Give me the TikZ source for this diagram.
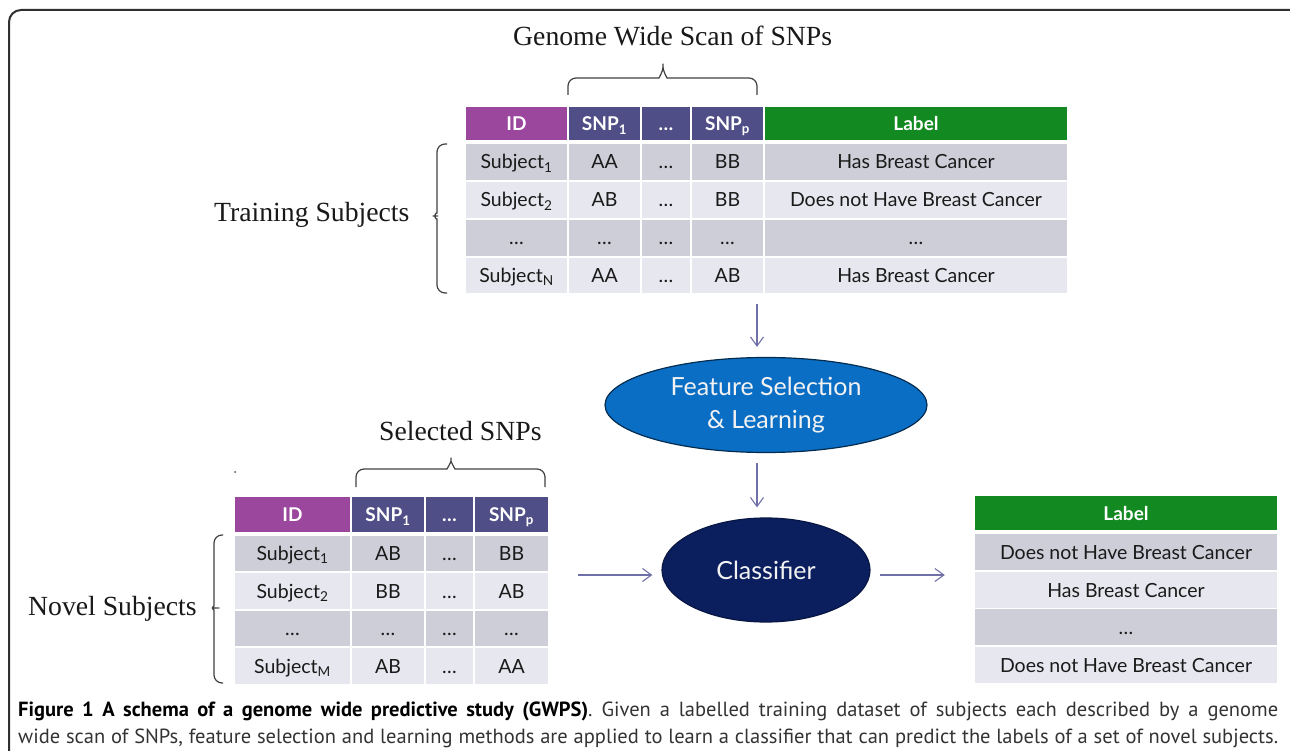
\documentclass[tikz,border=0pt]{standalone}
\usepackage{fontspec}
\setmainfont{Liberation Serif}
\newfontfamily\cellfont{Lato}
\newfontfamily\capfont{PT Sans}
\usetikzlibrary{positioning, arrows.meta}
\definecolor{idpurple}{HTML}{9B479E}
\definecolor{snpblue}{HTML}{4F4E87}
\definecolor{labelgreen}{HTML}{138A21}
\definecolor{rowdark}{HTML}{CDCED8}
\definecolor{rowlight}{HTML}{E7E7EF}
\definecolor{featblue}{HTML}{0A6EC5}
\definecolor{clsnavy}{HTML}{0B1F5F}
\definecolor{flowgray}{HTML}{7070A8}
\definecolor{framegray}{HTML}{303030}
\definecolor{celltext}{HTML}{1A1A1A}
\tikzset{
  cell/.style={rectangle, inner sep=0pt, text height=14pt, text depth=0pt,
    font=\cellfont\fontsize{19.5}{19.5}\selectfont, text=celltext},
  headcell/.style={cell, font=\cellfont\bfseries\fontsize{19}{19}\selectfont, text=white},
  bigtext/.style={inner sep=0pt, anchor=base west, font=\fontsize{27.7}{30}\selectfont, text=black!90},
  bracepath/.style={draw=black!75, line width=1.2pt, rounded corners=8pt},
  flow/.style={draw=flowgray, line width=1.1pt, -{Straight Barb[length=9pt, width=13pt]}},
  blob/.style={ellipse, inner sep=0pt, line width=1.2pt, align=center, text=white!95!black,
    font=\cellfont\fontsize{25}{33}\selectfont}
}
\usetikzlibrary{shapes.geometric}
\begin{document}
\begin{tikzpicture}[x=1pt, y=-1pt]
\useasboundingbox (0,0) rectangle (1290,751);
\draw[framegray, line width=2pt, rounded corners=12pt] (9,752) -- (9,10) -- (1291,10);

\node[bigtext] (gws) at (513,46) {Genome Wide Scan of SNPs};
\node[bigtext] (train) at (214,222) {Training Subjects};
\node[bigtext] (sel) at (379,440) {Selected SNPs};
\node[bigtext] (novel) at (28,615) {Novel Subjects};

% training table
\node[headcell, fill=idpurple, minimum width=101pt, minimum height=33pt] (tr-id-0) at (516.5,123.5) {ID};
\node[headcell, fill=snpblue, minimum width=71pt, minimum height=33pt] (tr-s1-0) at (604.5,123.5) {SNP\textsubscript{1}};
\node[headcell, fill=snpblue, minimum width=48pt, minimum height=33pt] (tr-dt-0) at (666,123.5) {…};
\node[headcell, fill=snpblue, minimum width=71pt, minimum height=33pt] (tr-sp-0) at (727.5,123.5) {SNP\textsubscript{p}};
\node[headcell, fill=labelgreen, minimum width=302pt, minimum height=33pt] (tr-lb-0) at (916,123.5) {Label};
\foreach \r/\y/\h/\shade/\id/\a/\b/\lab in {
    1/162/36/rowdark/Subject\textsubscript{1}/AA/BB/Has Breast Cancer,
    2/200/36/rowlight/Subject\textsubscript{2}/AB/BB/Does not Have Breast Cancer,
    3/238/36/rowdark/…/…/…/…,
    4/275.5/35/rowlight/Subject\textsubscript{N}/AA/AB/Has Breast Cancer}{
  \node[cell, fill=\shade, minimum width=101pt, minimum height=\h pt] (tr-id-\r) at (516.5,\y) {\id};
  \node[cell, fill=\shade, minimum width=71pt, minimum height=\h pt] (tr-s1-\r) at (604.5,\y) {\a};
  \node[cell, fill=\shade, minimum width=48pt, minimum height=\h pt] (tr-dt-\r) at (666,\y) {…};
  \node[cell, fill=\shade, minimum width=71pt, minimum height=\h pt] (tr-sp-\r) at (727.5,\y) {\b};
  \node[cell, fill=\shade, minimum width=302pt, minimum height=\h pt] (tr-lb-\r) at (916,\y) {\lab};
}

% novel table
\node[headcell, fill=idpurple, minimum width=115pt, minimum height=35pt] (nv-id-0) at (292.5,514.5) {ID};
\node[headcell, fill=snpblue, minimum width=72pt, minimum height=35pt] (nv-s1-0) at (388,514.5) {SNP\textsubscript{1}};
\node[headcell, fill=snpblue, minimum width=47pt, minimum height=35pt] (nv-dt-0) at (449.5,514.5) {…};
\node[headcell, fill=snpblue, minimum width=73pt, minimum height=35pt] (nv-sp-0) at (511.5,514.5) {SNP\textsubscript{p}};
\foreach \r/\y/\h/\shade/\id/\a/\b in {
    1/553.5/35/rowdark/Subject\textsubscript{1}/AB/BB,
    2/591/36/rowlight/Subject\textsubscript{2}/BB/AB,
    3/628.5/35/rowdark/…/…/…,
    4/666/36/rowlight/Subject\textsubscript{M}/AB/AA}{
  \node[cell, fill=\shade, minimum width=115pt, minimum height=\h pt] (nv-id-\r) at (292.5,\y) {\id};
  \node[cell, fill=\shade, minimum width=72pt, minimum height=\h pt] (nv-s1-\r) at (388,\y) {\a};
  \node[cell, fill=\shade, minimum width=47pt, minimum height=\h pt] (nv-dt-\r) at (449.5,\y) {…};
  \node[cell, fill=\shade, minimum width=73pt, minimum height=\h pt] (nv-sp-\r) at (511.5,\y) {\b};
}

% predicted labels
\node[headcell, fill=labelgreen, minimum width=302pt, minimum height=34pt] (pr-0) at (1126,513) {Label};
\foreach \r/\y/\shade/\lab in {
    1/552/rowdark/Does not Have Breast Cancer,
    2/590/rowlight/Has Breast Cancer,
    3/627/rowdark/…,
    4/665/rowlight/Does not Have Breast Cancer}{
  \node[cell, fill=\shade, minimum width=302pt, minimum height=36pt] (pr-\r) at (1126,\y) {\lab};
}

% braces
\draw[bracepath] (568,95) -- (568,78) -- (651,78) .. controls (659,78) and (663,71) .. (663,59)
  .. controls (663,71) and (667,78) .. (675,78) -- (757,78) -- (757,95);
\draw[bracepath] (356,487) -- (356,469) -- (439,469) .. controls (447,469) and (451,462) .. (451,453)
  .. controls (451,462) and (455,469) .. (463,469) -- (545,469) -- (545,487);
\draw[bracepath] (447,144) -- (437,144) -- (437,205) .. controls (437,212) and (433,216) .. (428,216)
  .. controls (433,216) and (437,220) .. (437,227) -- (437,293) -- (447,293);
\draw[bracepath] (223,535) -- (214,535) -- (214,598) .. controls (214,605) and (211,608) .. (207,608)
  .. controls (211,608) and (214,611) .. (214,618) -- (214,683) -- (223,683);
\fill[black!70] (235,472) circle (1pt);

% flow
\node[blob, fill=featblue, draw=featblue!40!black, minimum width=322pt, minimum height=95pt] (fs) at (766,405) {Feature Selection\\\& Learning};
\node[blob, fill=clsnavy, draw=clsnavy!70!black, minimum width=208pt, minimum height=104pt] (cls) at (766,570) {Classifier};
\coordinate (trout) at (757,304);
\coordinate (nvout) at (578,575);
\coordinate (clsout) at (880,575);
\draw[flow, shorten >=10pt] (trout) -- (trout |- fs.north);
\draw[flow, shorten <=10pt, shorten >=10pt] (trout |- fs.south) -- (trout |- cls.north);
\draw[flow, shorten >=9pt] (nvout) -- (nvout -| cls.west);
\draw[flow, shorten >=30pt] (clsout) -- (clsout -| pr-0.west);

% caption
\node[inner sep=0pt, anchor=base west, font=\capfont\fontsize{20.5}{27}\selectfont, text=black!80] (cap1) at (18,716)
  {\makebox[1260pt][s]{\textbf{\color{black}Figure 1 A schema of a genome wide predictive study (GWPS)}. Given a labelled training dataset of subjects each described by a genome}};
\node[inner sep=0pt, anchor=base west, font=\capfont\fontsize{20.5}{27}\selectfont, text=black!80] (cap2) at (18,743)
  {\makebox[1260pt][s]{wide scan of SNPs, feature selection and learning methods are applied to learn a classifier that can predict the labels of a set of novel subjects.}};
\end{tikzpicture}
\end{document}
